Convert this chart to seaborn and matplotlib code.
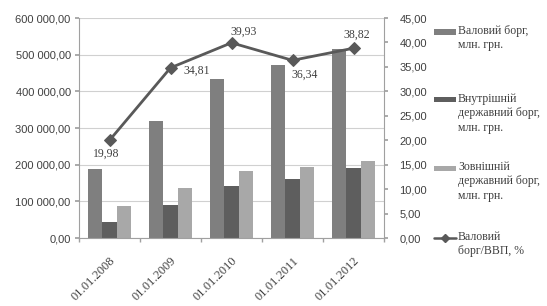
import matplotlib
matplotlib.use("Agg")
import matplotlib.pyplot as plt
import seaborn as sns
import pandas as pd
import numpy as np
from matplotlib.patches import Rectangle
from matplotlib.lines import Line2D
from matplotlib.ticker import FuncFormatter, FixedLocator

dates = ["01.01.2008", "01.01.2009", "01.01.2010", "01.01.2011", "01.01.2012"]
gross = [189000, 318000, 433000, 473000, 516000]
domestic = [45000, 91000, 143000, 161000, 191000]
external = [86000, 136000, 183000, 195000, 209000]
ratio = [19.98, 34.81, 39.93, 36.34, 38.82]
series_names = ["Валовий борг,\nмлн. грн.", "Внутрішній\nдержавний борг,\nмлн. грн.",
                "Зовнішній\nдержавний борг,\nмлн. грн.", "Валовий\nборг/ВВП, %"]
bar_colors = ["#7f7f7f", "#5e5e5e", "#a8a8a8"]
line_color = "#595959"

sns.set_theme(style="white")
plt.rcParams['font.family'] = ['Liberation Sans', 'DejaVu Sans']

df = pd.DataFrame({
    "date": dates * 3,
    "value": gross + domestic + external,
    "series": [series_names[0]] * 5 + [series_names[1]] * 5 + [series_names[2]] * 5,
})

W, H = 547, 306
fig = plt.figure(figsize=(W / 100, H / 100), dpi=100)
ax = fig.add_axes([79 / W, 1 - 238 / H, (384 - 79) / W, (238 - 18) / H])

sns.barplot(data=df, x="date", y="value", hue="series", palette=bar_colors,
            width=0.69, ax=ax, legend=False, saturation=1, edgecolor="none")

ax.set_ylim(0, 600000)
ax.set_xlim(-0.5, 4.5)
ax.yaxis.set_major_locator(FixedLocator(np.arange(0, 600001, 100000)))
ax.yaxis.set_major_formatter(FuncFormatter(lambda v, p: f"{v:,.2f}".replace(",", " ").replace(".", ",")))
ax.grid(axis="y", color="#d0d0d0", linewidth=0.8)
ax.set_axisbelow(True)
ax.set_xlabel("")
ax.set_ylabel("")
for s in ["top", "right"]:
    ax.spines[s].set_visible(False)
for s in ["left", "bottom"]:
    ax.spines[s].set_color("#a0a0a0")
    ax.spines[s].set_linewidth(0.8)
ax.tick_params(axis="y", which="major", left=True, length=3, color="#a0a0a0",
               labelsize=8, labelcolor="#404040", pad=3)
ax.set_xticks(range(5))
ax.set_xticklabels(dates, rotation=45, ha="right", rotation_mode="anchor",
                   fontsize=9, family="Liberation Serif", color="#404040")
ax.tick_params(axis="x", which="major", bottom=False, pad=6)
ax.set_xticks(np.arange(-0.5, 4.6, 1), minor=True)
ax.tick_params(axis="x", which="minor", bottom=True, length=3, color="#a0a0a0")

ax2 = ax.twinx()
sns.lineplot(x=np.arange(5), y=ratio, ax=ax2, color=line_color, linewidth=2,
             marker="D", markersize=6, markeredgecolor=line_color)
ax2.set_ylim(0, 45)
ax2.yaxis.set_major_locator(FixedLocator(np.arange(0, 45.1, 5)))
ax2.yaxis.set_major_formatter(FuncFormatter(lambda v, p: f"{v:.2f}".replace(".", ",")))
for s in ["top", "left", "bottom"]:
    ax2.spines[s].set_visible(False)
ax2.spines["right"].set_color("#a0a0a0")
ax2.spines["right"].set_linewidth(0.8)
ax2.tick_params(axis="y", right=True, length=3, color="#a0a0a0",
                labelsize=8, labelcolor="#404040", pad=8)
ax2.set_ylabel("")
ax2.grid(False)

offsets = [(-3, -13), (26, -3), (12, 11), (12, -14), (3, 13)]
for i, (v, off) in enumerate(zip(ratio, offsets)):
    ax2.annotate(f"{v:.2f}".replace(".", ","), (i, v), xytext=off, textcoords="offset pixels",
                 ha="center", va="center", fontsize=8.5, family="Liberation Serif", color="#404040")

# legend
def fx(px):
    return px / W
def fy(py):
    return 1 - py / H

first_lines = [32, 100, 168, 238]
for k, (name, y0) in enumerate(zip(series_names, first_lines)):
    if k < 3:
        fig.patches.append(Rectangle((fx(434), fy(y0 + 2.5)), 22 / W, 5 / H,
                                     transform=fig.transFigure, facecolor=bar_colors[k],
                                     edgecolor="none"))
    else:
        fig.lines.append(Line2D([fx(434), fx(456)], [fy(y0), fy(y0)], transform=fig.transFigure,
                                color=line_color, linewidth=1.8, marker=None))
        fig.lines.append(Line2D([fx(445)], [fy(y0)], transform=fig.transFigure,
                                color=line_color, marker="D", markersize=4, linestyle="none"))
    fig.text(fx(458), fy(y0 - 7), name, ha="left", va="top", fontsize=8.5,
             family="Liberation Serif", color="#404040", linespacing=1.25)

fig.savefig("out.png", dpi=100)
